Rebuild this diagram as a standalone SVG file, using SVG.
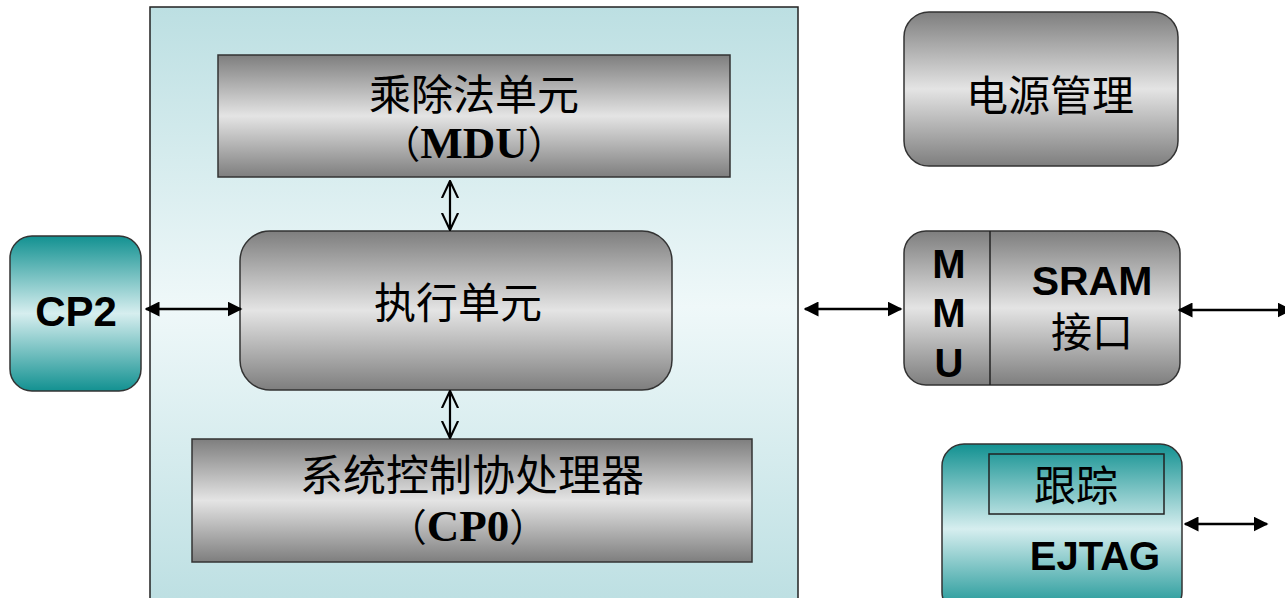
<svg xmlns="http://www.w3.org/2000/svg" width="1285" height="598" viewBox="0 0 1285 598">
  <defs>
    <linearGradient id="panelGrad" x1="0" y1="0" x2="0" y2="1">
      <stop offset="0" stop-color="#bcdfe2"/>
      <stop offset="0.5" stop-color="#eff8f9"/>
      <stop offset="1" stop-color="#bcdfe2"/>
    </linearGradient>
    <linearGradient id="grayGrad" x1="0" y1="0" x2="0" y2="1">
      <stop offset="0" stop-color="#7e7e7e"/>
      <stop offset="0.5" stop-color="#e4e4e4"/>
      <stop offset="1" stop-color="#7e7e7e"/>
    </linearGradient>
    <linearGradient id="tealGrad" x1="0" y1="0" x2="0" y2="1">
      <stop offset="0" stop-color="#129191"/>
      <stop offset="0.5" stop-color="#d6eeef"/>
      <stop offset="1" stop-color="#129191"/>
    </linearGradient>
    <marker id="solidHead" viewBox="0 0 10 10" refX="9" refY="5" markerWidth="15" markerHeight="15" markerUnits="userSpaceOnUse" orient="auto-start-reverse">
      <path d="M0,0 L10,5 L0,10 Z" fill="#000"/>
    </marker>
    <marker id="openHead" viewBox="0 0 10 10" refX="9.5" refY="5" markerWidth="18" markerHeight="20" markerUnits="userSpaceOnUse" orient="auto-start-reverse">
      <path d="M0,0.5 L9.5,5 L0,9.5" fill="none" stroke="#000" stroke-width="1.2"/>
    </marker>
    <style>
      .box { stroke: #333; stroke-width: 1.5; }
      .cjk { font-family: "Noto Sans CJK SC", sans-serif; fill: #000; }
      .serifb { font-family: "Liberation Serif", "Noto Sans CJK SC", serif; font-weight: bold; fill: #000; }
      .paren { font-family: "Noto Sans CJK SC", sans-serif; font-weight: normal; }
      .sansb { font-family: "Liberation Sans", Arial, sans-serif; font-weight: bold; fill: #000; }
      .link { stroke: #000; stroke-width: 2.6; fill: none; }
      .vlink { stroke: #000; stroke-width: 2.2; fill: none; }
    </style>
  </defs>

  <rect width="1285" height="598" fill="#fff"/>

  <!-- core panel -->
  <g id="core-panel">
    <rect x="150" y="7" width="648" height="600" fill="url(#panelGrad)" stroke="#222" stroke-width="1.5"/>
  </g>

  <g id="mdu">
    <rect class="box" x="218" y="55" width="512" height="122" fill="url(#grayGrad)"/>
    <text class="cjk" x="474" y="110" font-size="42" text-anchor="middle">乘除法单元</text>
    <text class="serifb" x="474" y="158" font-size="45" text-anchor="middle"><tspan class="paren" font-size="38">（</tspan>MDU<tspan class="paren" font-size="38">）</tspan></text>
  </g>

  <g id="exec-unit">
    <rect class="box" x="240" y="231" width="432" height="159" rx="30" fill="url(#grayGrad)"/>
    <text class="cjk" x="458" y="318" font-size="42" text-anchor="middle">执行单元</text>
  </g>

  <g id="cp0">
    <rect class="box" x="192" y="439" width="560" height="123" fill="url(#grayGrad)"/>
    <text class="cjk" x="472" y="491" font-size="43" text-anchor="middle">系统控制协处理器</text>
    <text class="serifb" x="468" y="541" font-size="45" text-anchor="middle"><tspan class="paren" font-size="38">（</tspan>CP0<tspan class="paren" font-size="38">）</tspan></text>
  </g>

  <g id="cp2">
    <rect class="box" x="10" y="236" width="131" height="155" rx="22" fill="url(#tealGrad)"/>
    <text class="sansb" x="76" y="326" font-size="42" text-anchor="middle">CP2</text>
  </g>

  <g id="power">
    <rect class="box" x="904" y="12" width="274" height="154" rx="25" fill="url(#grayGrad)"/>
    <text class="cjk" x="1050" y="111" font-size="42" text-anchor="middle">电源管理</text>
  </g>

  <g id="mmu-sram">
    <rect class="box" x="904" y="231" width="276" height="154" rx="22" fill="url(#grayGrad)"/>
    <line x1="990" y1="231" x2="990" y2="385" stroke="#222" stroke-width="1.5"/>
    <text class="sansb" x="949" y="278" font-size="40" text-anchor="middle">M</text>
    <text class="sansb" x="949" y="327" font-size="40" text-anchor="middle">M</text>
    <text class="sansb" x="949" y="377" font-size="40" text-anchor="middle">U</text>
    <text class="sansb" x="1092" y="295" font-size="41" text-anchor="middle">SRAM</text>
    <text class="cjk" x="1092" y="347" font-size="41" text-anchor="middle">接口</text>
  </g>

  <g id="ejtag">
    <rect class="box" x="942" y="444" width="240" height="170" rx="22" fill="url(#tealGrad)"/>
    <rect x="989" y="454" width="175" height="60" fill="none" stroke="#222" stroke-width="1.5"/>
    <text class="cjk" x="1076" y="501" font-size="42" text-anchor="middle">跟踪</text>
    <text class="sansb" x="1095" y="570" font-size="40" text-anchor="middle">EJTAG</text>
  </g>

  <!-- connectors -->
  <g id="connectors">
    <line class="vlink" x1="450" y1="181" x2="450" y2="230" marker-start="url(#openHead)" marker-end="url(#openHead)"/>
    <line class="vlink" x1="450" y1="391" x2="450" y2="438" marker-start="url(#openHead)" marker-end="url(#openHead)"/>
    <line class="link" x1="146" y1="309" x2="241" y2="309" marker-start="url(#solidHead)" marker-end="url(#solidHead)"/>
    <line class="link" x1="805" y1="309" x2="901" y2="309" marker-start="url(#solidHead)" marker-end="url(#solidHead)"/>
    <line class="link" x1="1179" y1="310" x2="1291" y2="310" marker-start="url(#solidHead)" marker-end="url(#solidHead)"/>
    <line class="link" x1="1185" y1="524" x2="1267" y2="524" marker-start="url(#solidHead)" marker-end="url(#solidHead)"/>
  </g>
</svg>
